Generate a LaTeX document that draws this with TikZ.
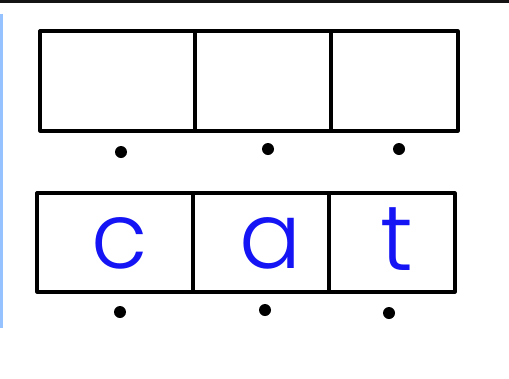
\documentclass[tikz,border=0pt]{standalone}
\usepackage{fontspec}
\newfontfamily\letterfont{Poppins Light}
\definecolor{penblue}{RGB}{20,20,245}
\definecolor{stripblue}{RGB}{150,195,255}
\tikzset{
  cell/.style={draw, line width=3.2pt, rectangle, inner sep=0pt},
  dot/.style={circle, fill, inner sep=0pt, minimum size=12pt},
  letter/.style={text=penblue, font=\letterfont\fontsize{92}{92}\selectfont, inner sep=0pt}
}
\begin{document}
\begin{tikzpicture}[x=1pt, y=-1pt, line cap=round, line join=round]
  \useasboundingbox (0,0) rectangle (509,378);

  % bordi
  \fill[black!92] (0,0) rectangle (509,3);
  \fill[stripblue] (0,14) rectangle (3,328);

  % griglia vuota
  \node[cell, minimum width=155pt, minimum height=100pt] (t1) at (117.5,81) {};
  \node[cell, minimum width=136pt, minimum height=100pt] (t2) at (263,81) {};
  \node[cell, minimum width=127pt, minimum height=100pt] (t3) at (394.5,81) {};

  % punti sopra
  \node[dot] (p1) at (121,152) {};
  \node[dot] (p2) at (268,149) {};
  \node[dot] (p3) at (399,149) {};

  % griglia con la parola
  \node[cell, minimum width=156pt, minimum height=99pt] (b1) at (115,242.5) {};
  \node[cell, minimum width=136pt, minimum height=99pt] (b2) at (261,242.5) {};
  \node[cell, minimum width=126pt, minimum height=99pt] (b3) at (392,242.5) {};

  % lettere
  \node[letter, anchor=base] (c) at (120,268) {c};
  \node[letter, anchor=base] (a) at (271,268) {a};
  \node[letter, anchor=base] (t) at (397,270) {t};

  % punti sotto
  \node[dot] (q1) at (120,312) {};
  \node[dot] (q2) at (265,310) {};
  \node[dot] (q3) at (389,313) {};
\end{tikzpicture}
\end{document}
